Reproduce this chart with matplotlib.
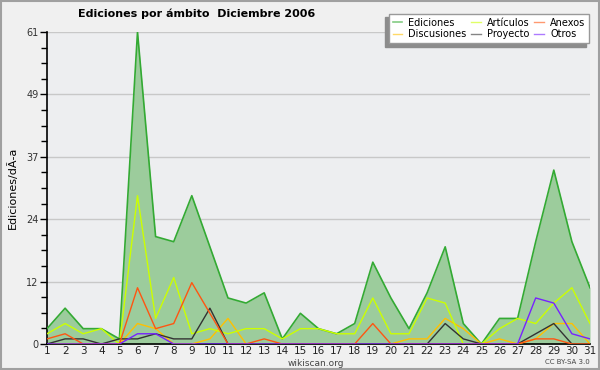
import matplotlib
matplotlib.use("Agg")
import matplotlib.pyplot as plt
from matplotlib.patches import Rectangle
from matplotlib.ticker import MultipleLocator, FixedLocator

days = list(range(1, 32))
ediciones   = [3, 7, 3, 3, 1, 61, 21, 20, 29, 19, 9, 8, 10, 1, 6, 3, 2, 4, 16, 9, 3, 10, 19, 4, 0, 5, 5, 20, 34, 20, 11]
articulos   = [2, 4, 2, 3, 0, 29, 5, 13, 2, 3, 2, 3, 3, 1, 3, 3, 2, 2, 9, 2, 2, 9, 8, 0, 0, 3, 5, 4, 8, 11, 4]
anexos      = [1, 2, 0, 0, 0, 11, 3, 4, 12, 6, 0, 0, 1, 0, 0, 0, 0, 0, 4, 0, 0, 0, 0, 0, 0, 0, 0, 1, 1, 0, 0]
discusiones = [0, 0, 0, 0, 0, 4, 3, 0, 0, 1, 5, 0, 0, 0, 0, 0, 0, 0, 0, 0, 1, 1, 5, 3, 0, 1, 0, 1, 4, 4, 0]
proyecto    = [0, 1, 1, 0, 1, 1, 2, 1, 1, 7, 0, 0, 0, 0, 0, 0, 0, 0, 0, 0, 0, 0, 4, 1, 0, 0, 0, 2, 4, 0, 0]
otros       = [0, 0, 0, 0, 0, 2, 2, 0, 0, 0, 0, 0, 0, 0, 0, 0, 0, 0, 0, 0, 0, 0, 0, 0, 0, 0, 0, 9, 8, 2, 1]
ytick_labels = ["0", "12", "24", "37", "49", "61"]

ymax = 61

fig = plt.figure(figsize=(6, 3.7), dpi=100, facecolor="#f0f0f0")
fig.patches.append(Rectangle((0.001, 0.002), 0.997, 0.995, transform=fig.transFigure,
                             fill=False, edgecolor="#a0a0a0", linewidth=1.5))
ax = fig.add_axes([47/600, 26/370, 543/600, 312/370])
ax.set_facecolor("#edeef0")

ax.fill_between(days, ediciones, 0, color="#9ccc9c", linewidth=0, zorder=2)
ax.plot(days, ediciones, color="#33aa33", lw=1.2, zorder=3, label="Ediciones")
ax.plot(days, discusiones, color="#ffc000", lw=1, zorder=4, label="Discusiones")
ax.plot(days, articulos, color="#ccff00", lw=1, zorder=4, label="Artículos")
ax.plot(days, proyecto, color="#333333", lw=1, zorder=4, label="Proyecto")
ax.plot(days, anexos, color="#ff5511", lw=1, zorder=4, label="Anexos")
ax.plot(days, otros, color="#7722ff", lw=1, zorder=4, label="Otros")

ax.set_xlim(1, 31)
ax.set_ylim(0, ymax)
major = [ymax * i / 5 for i in range(6)]
ax.yaxis.set_major_locator(FixedLocator(major))
ax.set_yticklabels(ytick_labels)
ax.yaxis.set_minor_locator(MultipleLocator(ymax / 20))
ax.set_xticks(days)
ax.grid(axis="y", which="major", color="#c8c8c8", lw=1, zorder=1)
ax.set_axisbelow(True)
for s in ["top", "right"]:
    ax.spines[s].set_visible(False)
ax.spines["left"].set_linewidth(1.2)
ax.spines["bottom"].set_linewidth(1.2)
ax.tick_params(axis="y", which="major", length=5, width=1, labelsize=7, pad=1, colors="black", labelcolor="#333333")
ax.tick_params(axis="y", which="minor", length=4, width=1)
ax.tick_params(axis="x", length=0, labelsize=7.5, pad=1.5, labelcolor="#222222")

ax.set_ylabel("Ediciones/dÃ\u00ada", fontsize=8, labelpad=6)

fig.text(197/600, 1 - 14/370, "Ediciones por ámbito  Diciembre 2006", ha="center", va="center",
         fontsize=8, fontweight="bold")
fig.text(316/600, 1 - 363/370, "wikiscan.org", ha="center", va="center", fontsize=6.5, color="#444444")
fig.text(590/600, 1 - 362/370, "CC BY-SA 3.0", ha="right", va="center", fontsize=5, color="#444444")

leg = ax.legend(ncol=3, loc="upper right", bbox_to_anchor=(594/600, 1 - 9/370), bbox_transform=fig.transFigure,
                fontsize=7, frameon=True, fancybox=False,
                shadow={"ox": -2.5, "oy": -2.5, "color": "#8c8c8c", "alpha": 1},
                handlelength=1.0, handletextpad=0.6, columnspacing=0.5, labelspacing=0.15, borderpad=0.4)
leg.get_frame().set_edgecolor("#999999")
leg.get_frame().set_facecolor("white")
leg.get_frame().set_linewidth(1)
for line in leg.get_lines():
    line.set_alpha(0.6)

fig.savefig("out.png", dpi=100, facecolor=fig.get_facecolor())
